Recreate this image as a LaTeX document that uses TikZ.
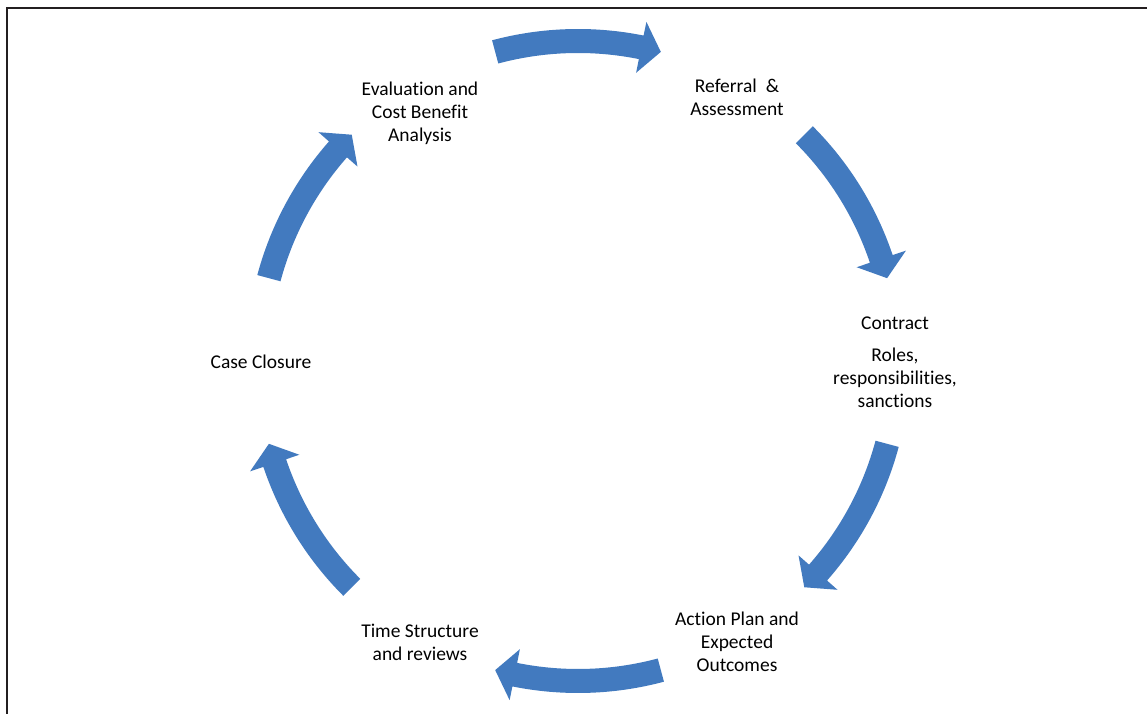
\documentclass[tikz,border=0pt]{standalone}
\usepackage{fontspec}
\setmainfont{Carlito}[Ligatures={NoCommon,NoContextual}]
\usetikzlibrary{calc}
\definecolor{arrowblue}{HTML}{427ABF}
\definecolor{framegray}{HTML}{231F20}
\tikzset{
  lbl/.style={align=center, inner sep=0pt, font=\fontsize{19.5}{23}\selectfont, text=black},
  arrowfill/.style={fill=arrowblue, draw=none},
  frameline/.style={draw=framegray, line width=2}
}
\newcommand{\cyclearrow}[2]{%
  \pgfmathsetmacro{\headang}{#2+3.6}%
  \fill[arrowfill] ($(c)+(#1:332)$) arc[start angle=#1, end angle=\headang, radius=332]
    -- ($(c)+(\headang:346)$) -- ($(c)+(#2:320)$) -- ($(c)+(\headang:294)$)
    -- ($(c)+(\headang:308)$) arc[start angle=\headang, end angle=#1, radius=308] -- cycle;}
\begin{document}
\begin{tikzpicture}[x=1pt,y=1pt]
\useasboundingbox (0,0) rectangle (1147,714);
\fill[white] (0,0) rectangle (1147,714);
\draw[frameline] (7.3,0) -- (7.3,706.4) -- (1147,706.4);
\coordinate (c) at (578,353);
% labels
\node[lbl] (eval) at (420,601) {Evaluation and\\Cost Benefit\\Analysis};
\node[lbl] (ref) at (737,617) {Referral~~\&\\Assessment};
\node[lbl] (con) at (895,352) {Contract\\[9pt]Roles,\\responsibilities,\\sanctions};
\node[lbl] (act) at (737,72) {Action Plan and\\Expected\\Outcomes};
\node[lbl] (time) at (420,71.5) {Time Structure\\and reviews};
\node[lbl] (close) at (261,352) {Case Closure};
% cycle arrows
\cyclearrow{105}{75}
\cyclearrow{45}{15}
\cyclearrow{-15}{-45}
\cyclearrow{-75}{-105}
\cyclearrow{-135}{-165}
\cyclearrow{165}{135}
\end{tikzpicture}
\end{document}
